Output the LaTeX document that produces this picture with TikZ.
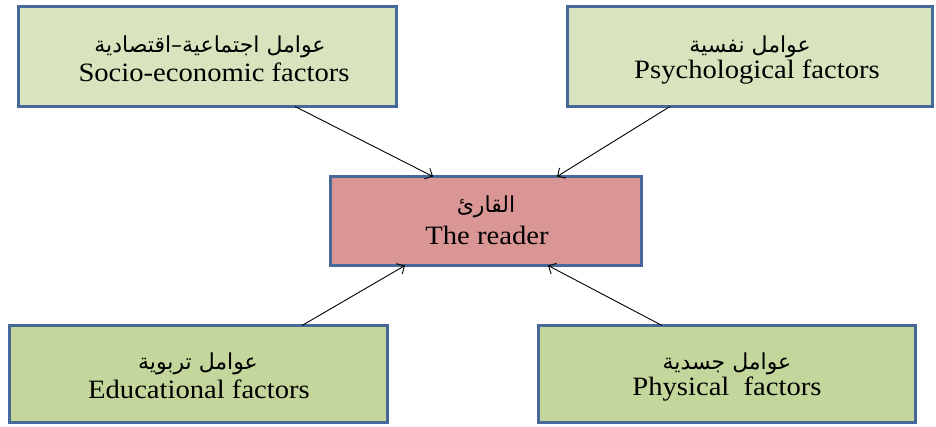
\documentclass[tikz,border=0pt]{standalone}
\usepackage{fontspec}
\setmainfont{Liberation Serif}
\newfontfamily\arabicfont[Script=Arabic]{DejaVu Sans}
\TeXXeTstate=1
\usetikzlibrary{arrows.meta,calc}
\definecolor{bordercol}{HTML}{46699A}
\definecolor{topfill}{HTML}{D7E4BD}
\definecolor{botfill}{HTML}{C3D69B}
\definecolor{midfill}{HTML}{D99694}
\newcommand{\ar}[1]{{\arabicfont\fontsize{22}{26}\selectfont\beginR #1\endR}}
\newcommand{\en}[1]{{\fontsize{26.5}{30}\selectfont\addfontfeature{FakeStretch=1.08}#1}}
\begin{document}
\begin{tikzpicture}[x=1pt,y=-1pt,
  box/.style={draw=bordercol, line width=3pt, anchor=north west, inner sep=0pt, outer sep=0pt, align=center},
  conn/.style={line width=0.9pt, -{Straight Barb[length=6pt,width=12pt]}}]
\useasboundingbox (0,0) rectangle (936,426);
\node[box, fill=topfill, minimum width=378pt, minimum height=100pt] (tl) at (18.5,6.5) {};
\node[box, fill=topfill, minimum width=365pt, minimum height=100pt] (tr) at (567.5,6.5) {};
\node[box, fill=midfill, minimum width=311pt, minimum height=89pt] (mid) at (330.5,176.5) {};
\node[box, fill=botfill, minimum width=378pt, minimum height=97pt] (bl) at (9.5,325.5) {};
\node[box, fill=botfill, minimum width=377pt, minimum height=97pt] (br) at (538.5,325.5) {};
% texts
\node (tlA) at (210,47) {\ar{عوامل اجتماعية–اقتصادية}};
\node (tlE) at (214,72) {\en{Socio-economic factors}};
\node (trA) at (750,47) {\ar{عوامل نفسية}};
\node (trE) at (757,72) {\en{Psychological factors}};
\node (midA) at (486,207) {\ar{القارئ}};
\node (midE) at (487,235) {\en{The reader}};
\node (blA) at (198,364) {\ar{عوامل تربوية}};
\node (blE) at (199,389) {\en{Educational factors}};
\node (brA) at (727,364) {\ar{عوامل جسدية}};
\node (brE) at (727,389) {\en{Physical\ \ factors}};
% connectors
\draw[conn] ($(tl.south west)+(276.5,0)$) -- ($(mid.north west)+(102.5,0)$);
\draw[conn] ($(tr.south west)+(102.5,0)$) -- ($(mid.north west)+(226.5,0)$);
\draw[conn] ($(bl.north west)+(292.5,0)$) -- ($(mid.south west)+(74.5,0)$);
\draw[conn] ($(br.north west)+(123.5,0)$) -- ($(mid.south west)+(217.5,0)$);
\end{tikzpicture}
\end{document}
